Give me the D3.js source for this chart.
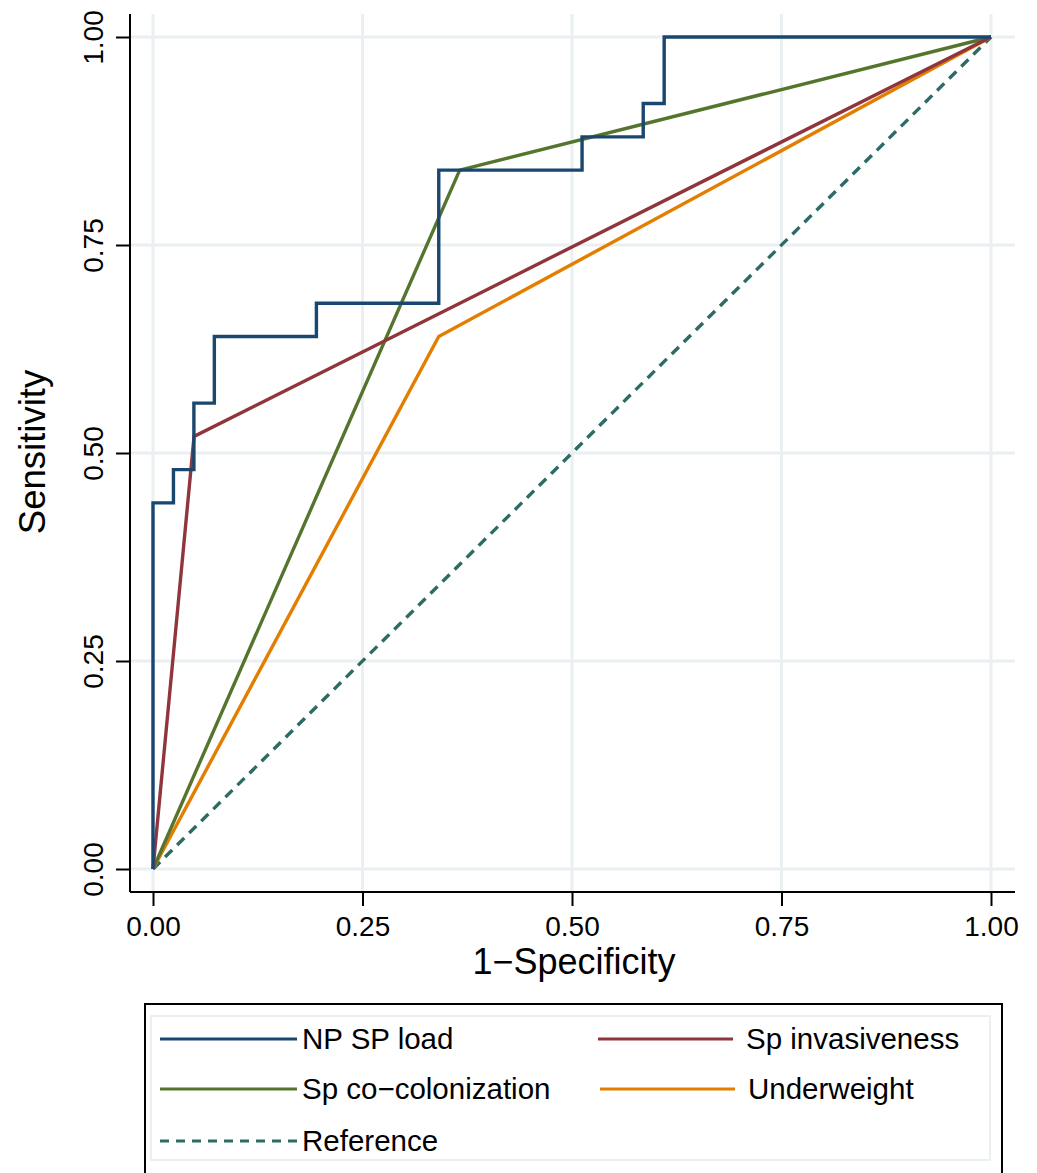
<!DOCTYPE html>
<html lang="en">
<head>
    <meta charset="UTF-8">
    <title>ROC curves</title>
    <script src="https://d3js.org/d3.v7.min.js"></script>
    <style>
        body { margin: 0; background: #fff; }
        text { font-family: "Liberation Sans", Arial, sans-serif; fill: #000; }
        .grid line { stroke: #eaf0f2; stroke-width: 3px; }
        .curve { fill: none; stroke-width: 3.4px; }
    </style>
</head>
<body>
    <svg width="1037" height="1173"></svg>
    <script>
        // ROC points (x = 1-specificity, y = sensitivity)
        var npLoadX = [0, 0, 0.0244, 0.0244, 0.0488, 0.0488, 0.0732, 0.0732, 0.195, 0.195, 0.341, 0.341, 0.512, 0.512, 0.585, 0.585, 0.61, 0.61, 1];
        var npLoadY = [0, 0.44, 0.44, 0.48, 0.48, 0.56, 0.56, 0.64, 0.64, 0.68, 0.68, 0.84, 0.84, 0.88, 0.88, 0.92, 0.92, 1, 1];
        var invasX = [0, 0.049, 1];
        var invasY = [0, 0.52, 1];
        var cocolX = [0, 0.366, 1];
        var cocolY = [0, 0.84, 1];
        var underX = [0, 0.341, 1];
        var underY = [0, 0.64, 1];
        var refX = [0, 1];
        var refY = [0, 1];

        var tickValues = [0, 0.25, 0.5, 0.75, 1];
        var tickLabels = ["0.00", "0.25", "0.50", "0.75", "1.00"];

        var seriesNames = ["NP SP load", "Sp invasiveness", "Sp co\u2212colonization", "Underweight", "Reference"];
        var seriesColors = ["#1a476f", "#90353b", "#55752f", "#e37e00", "#2d6b66"];

        var svg = d3.select("svg");

        // plot region and data range
        var plotL = 130, plotR = 1015, plotT = 14, plotB = 892;
        var x = d3.scaleLinear().domain([0, 1]).range([153, 991]);
        var y = d3.scaleLinear().domain([0, 1]).range([869, 37]);

        // grid
        var grid = svg.append("g").attr("class", "grid");
        grid.selectAll("line.h").data(tickValues).enter().append("line")
            .attr("x1", plotL).attr("x2", plotR)
            .attr("y1", function(d) { return y(d); })
            .attr("y2", function(d) { return y(d); });
        grid.selectAll("line.v").data(tickValues).enter().append("line")
            .attr("y1", plotT).attr("y2", plotB)
            .attr("x1", function(d) { return x(d); })
            .attr("x2", function(d) { return x(d); });

        // curves
        var line = d3.line().x(function(d) { return x(d[0]); }).y(function(d) { return y(d[1]); });
        var series = [
            { xs: refX, ys: refY, i: 4, dash: "10,7" },
            { xs: underX, ys: underY, i: 3 },
            { xs: cocolX, ys: cocolY, i: 2 },
            { xs: invasX, ys: invasY, i: 1 },
            { xs: npLoadX, ys: npLoadY, i: 0 }
        ];
        series.forEach(function(s) {
            var pts = s.xs.map(function(v, k) { return [v, s.ys[k]]; });
            svg.append("path")
                .datum(pts)
                .attr("class", "curve")
                .attr("d", line)
                .attr("stroke", seriesColors[s.i])
                .attr("stroke-dasharray", s.dash || null)
                .attr("stroke-linejoin", "miter");
        });

        // axes
        var xAxis = d3.axisBottom(x).tickValues(tickValues).tickSize(14).tickPadding(5)
            .tickFormat(function(d, i) { return tickLabels[i]; });
        var gx = svg.append("g").attr("transform", "translate(0," + plotB + ")").call(xAxis);
        gx.select(".domain").remove();
        gx.selectAll(".tick line").attr("stroke", "#000").attr("stroke-width", 2);
        gx.selectAll(".tick text").attr("font-size", 28).attr("dy", "0.9em");
        svg.append("line").attr("x1", plotL).attr("x2", plotR).attr("y1", plotB).attr("y2", plotB)
            .attr("stroke", "#000").attr("stroke-width", 2);

        var yAxis = d3.axisLeft(y).tickValues(tickValues).tickSize(14).tickPadding(0)
            .tickFormat(function(d, i) { return tickLabels[i]; });
        var gy = svg.append("g").attr("transform", "translate(" + plotL + ",0)").call(yAxis);
        gy.select(".domain").remove();
        gy.selectAll(".tick line").attr("stroke", "#000").attr("stroke-width", 2);
        gy.selectAll(".tick text")
            .attr("font-size", 28)
            .attr("x", null).attr("dy", null)
            .attr("text-anchor", "middle")
            .attr("transform", "translate(-27,0) rotate(-90)");
        svg.append("line").attr("x1", plotL).attr("x2", plotL).attr("y1", plotT).attr("y2", plotB)
            .attr("stroke", "#000").attr("stroke-width", 2);

        // axis titles
        svg.append("text").attr("x", 574).attr("y", 974)
            .attr("text-anchor", "middle").attr("font-size", 36).text("1\u2212Specificity");
        svg.append("text").attr("transform", "translate(45,452) rotate(-90)")
            .attr("text-anchor", "middle").attr("font-size", 36.5).text("Sensitivity");

        // legend
        svg.append("rect").attr("x", 145).attr("y", 1004).attr("width", 857).attr("height", 200)
            .attr("fill", "#fff").attr("stroke", "#000").attr("stroke-width", 2);
        svg.append("rect").attr("x", 151).attr("y", 1016).attr("width", 839).attr("height", 144)
            .attr("fill", "none").attr("stroke", "#eaf0f2").attr("stroke-width", 2);

        var legendPos = [
            { lx1: 160, lx2: 297, tx: 302, ty: 1039 },
            { lx1: 598, lx2: 733, tx: 746, ty: 1039 },
            { lx1: 160, lx2: 297, tx: 302, ty: 1089 },
            { lx1: 600, lx2: 735, tx: 748, ty: 1089 },
            { lx1: 160, lx2: 297, tx: 302, ty: 1141 }
        ];
        var leg = svg.append("g").selectAll("g").data(seriesNames).enter().append("g");
        leg.append("line")
            .attr("x1", function(d, i) { return legendPos[i].lx1; })
            .attr("x2", function(d, i) { return legendPos[i].lx2; })
            .attr("y1", function(d, i) { return legendPos[i].ty; })
            .attr("y2", function(d, i) { return legendPos[i].ty; })
            .attr("stroke", function(d, i) { return seriesColors[i]; })
            .attr("stroke-width", 3)
            .attr("stroke-dasharray", function(d, i) { return i === 4 ? "9,7" : null; });
        leg.append("text")
            .attr("x", function(d, i) { return legendPos[i].tx; })
            .attr("y", function(d, i) { return legendPos[i].ty; })
            .attr("dy", "0.35em")
            .attr("font-size", 29.5)
            .text(function(d) { return d; });
    </script>
</body>
</html>
